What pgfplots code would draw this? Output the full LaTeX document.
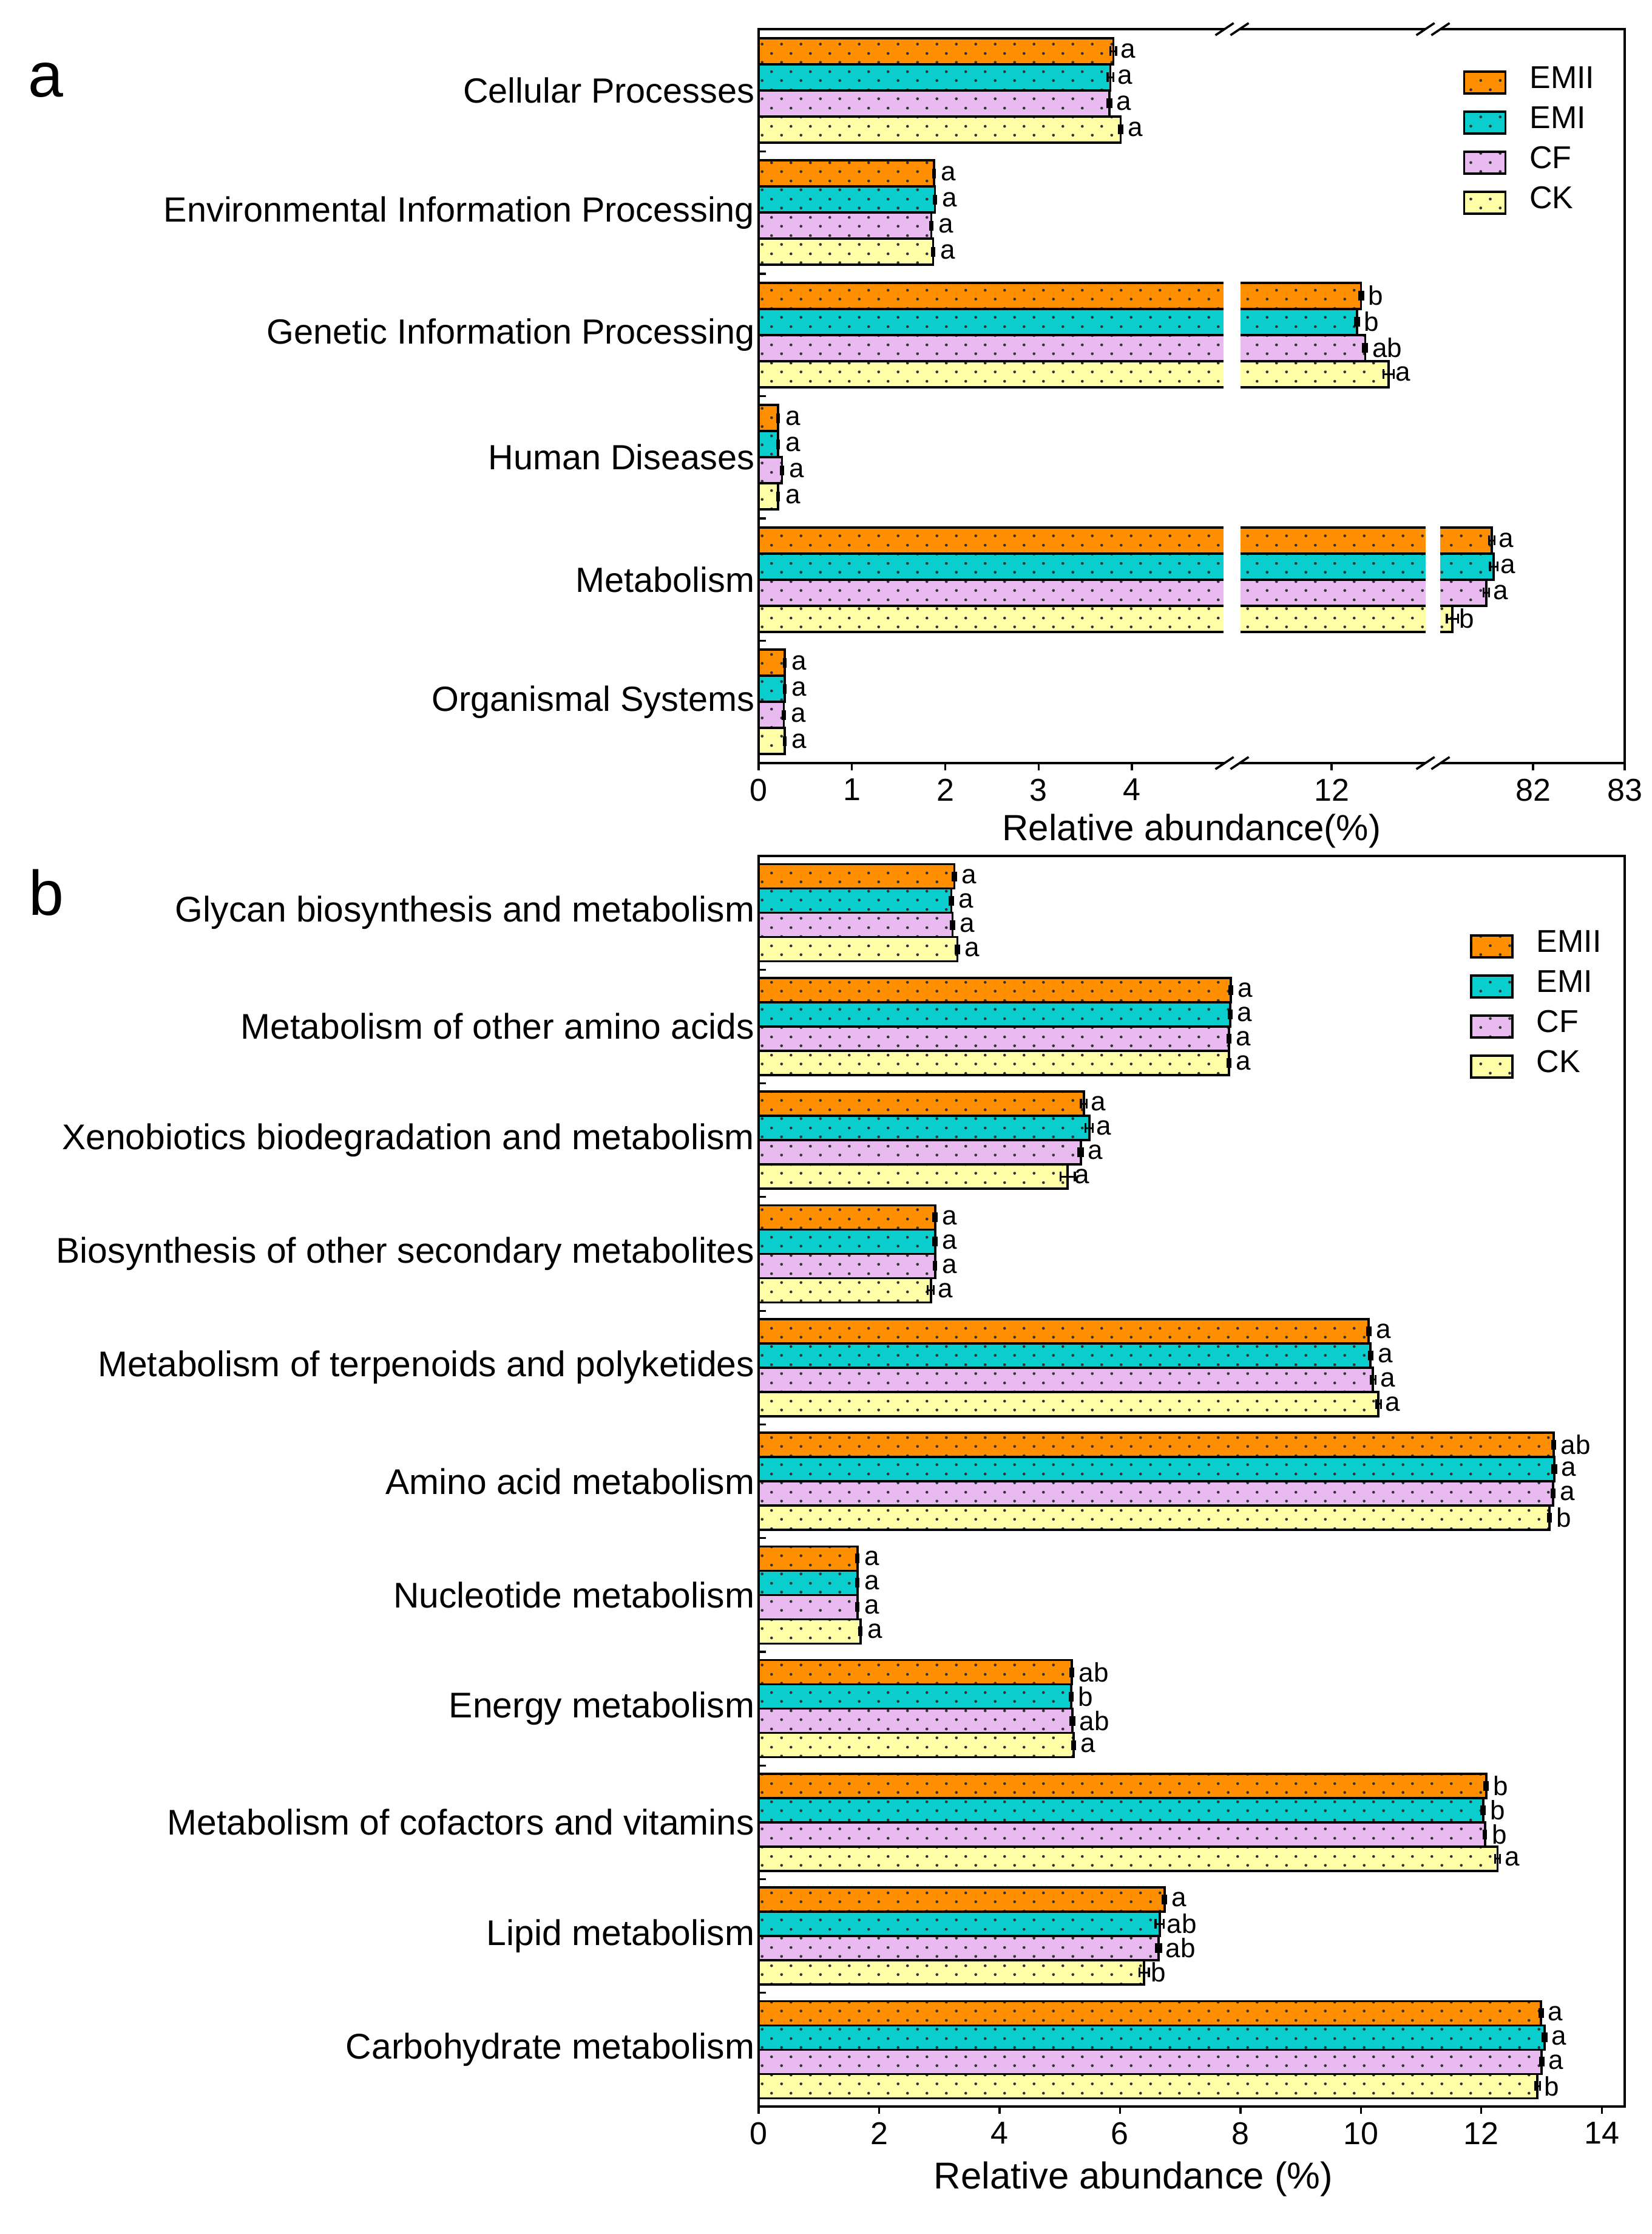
\documentclass[border=0pt]{standalone}
\usepackage{fontspec}
\setmainfont{Liberation Sans}
\usepackage{pgfplots}
\pgfplotsset{compat=1.18}
\usepackage{pgfplotstable}
\usetikzlibrary{patterns.meta,calc}

\definecolor{cEMII}{RGB}{255,142,0}
\definecolor{cEMI}{RGB}{10,206,206}
\definecolor{cCF}{RGB}{232,186,240}
\definecolor{cCK}{RGB}{255,255,168}

\tikzdeclarepattern{
  name=sdots,
  type=uncolored,
  bounding box={(0pt,0pt) and (8pt,7.5pt)},
  tile size={(8pt,7.5pt)},
  code={
    \fill (2pt,1.9pt) circle (0.6pt);
    \fill (6pt,5.65pt) circle (0.6pt);
  }
}

\pgfplotsset{
  sEMII/.style={fill=cEMII, draw=black, line width=0.9pt, postaction={pattern=sdots, pattern color=black!80}},
  sEMI/.style={fill=cEMI, draw=black, line width=0.9pt, postaction={pattern=sdots, pattern color=black!80}},
  sCF/.style={fill=cCF, draw=black, line width=0.9pt, postaction={pattern=sdots, pattern color=black!80}},
  sCK/.style={fill=cCK, draw=black, line width=0.9pt, postaction={pattern=sdots, pattern color=black!80}},
  common/.style={
    xbar, scale only axis, width=356.75pt,
    axis line style={line width=1.1pt},
    tick align=outside, xtick pos=left, ytick pos=left,
    major x tick style={line width=0.8pt, black},
    major tick length=3pt,
    major y tick style={draw=none},
    minor y tick style={line width=0.8pt, black, xshift=3pt},
    minor tick length=3pt,
    /pgf/number format/assume math mode=true,
    xticklabel style={font=\fontsize{13}{13}\selectfont},
    yticklabel style={inner sep=0pt, xshift=1.5pt},
    point meta=explicit symbolic,
    nodes near coords,
    every node near coord/.append style={font=\fontsize{11}{11}\selectfont, anchor=west, inner sep=0pt, xshift=2.5pt, black},
    error bars/x dir=both, error bars/x explicit,
    error bars/error bar style={line width=0.8pt, black},
    error bars/error mark options={rotate=90, mark size=2pt, line width=0.8pt, black},
    legend image code/.code={\draw[#1] (0pt,-4.5pt) rectangle (17pt,4.5pt);},
    legend cell align=left,
    legend style={draw=none, fill=none, inner sep=0pt, font=\fontsize{13}{13}\selectfont,
      nodes={inner sep=0pt, text height=10.5pt, text depth=6pt},
      column sep=9.5pt},
  },
}

% ---------------- panel a data (y: 5 = Cellular Processes ... 0 = Organismal Systems)
\pgfplotstableread{
y x e l
5 3.80 0.03 a
4 1.88 0.01 a
3 12.29 0.02 b
2 0.21 0.01 a
1 81.55 0.03 a
0 0.28 0.01 a
}\AEMII
\pgfplotstableread{
y x e l
5 3.77 0.03 a
4 1.89 0.01 a
3 12.25 0.02 b
2 0.21 0.01 a
1 81.57 0.04 a
0 0.28 0.01 a
}\AEMI
\pgfplotstableread{
y x e l
5 3.76 0.02 a
4 1.85 0.01 a
3 12.33 0.02 ab
2 0.25 0.01 a
1 81.49 0.03 a
0 0.27 0.01 a
}\ACF
\pgfplotstableread{
y x e l
5 3.88 0.02 a
4 1.87 0.01 a
3 12.56 0.05 a
2 0.21 0.01 a
1 81.12 0.06 b
0 0.28 0.01 a
}\ACK

% ---------------- panel b data (y: 10 = Glycan ... 0 = Carbohydrate)
\pgfplotstableread{
y x e l
10 3.25 0.03 a
9 7.84 0.02 a
8 5.40 0.05 a
7 2.93 0.03 a
6 10.13 0.03 a
5 13.20 0.02 ab
4 1.64 0.02 a
3 5.20 0.02 ab
2 12.08 0.03 b
1 6.74 0.03 a
0 12.99 0.03 a
}\BEMII
\pgfplotstableread{
y x e l
10 3.20 0.03 a
9 7.83 0.02 a
8 5.49 0.06 a
7 2.93 0.03 a
6 10.16 0.03 a
5 13.21 0.03 a
4 1.64 0.02 a
3 5.19 0.02 b
2 12.03 0.03 b
1 6.66 0.07 ab
0 13.05 0.03 a
}\BEMI
\pgfplotstableread{
y x e l
10 3.22 0.03 a
9 7.81 0.02 a
8 5.35 0.04 a
7 2.93 0.02 a
6 10.20 0.04 a
5 13.19 0.02 a
4 1.64 0.02 a
3 5.21 0.03 ab
2 12.06 0.02 b
1 6.64 0.04 ab
0 13.00 0.03 a
}\BCF
\pgfplotstableread{
y x e l
10 3.30 0.03 a
9 7.81 0.02 a
8 5.13 0.12 a
7 2.86 0.05 a
6 10.29 0.04 a
5 13.13 0.02 b
4 1.69 0.02 a
3 5.23 0.02 a
2 12.27 0.04 a
1 6.40 0.08 b
0 12.93 0.04 b
}\BCK

% error bars are not passed through the x coord trafo: scale them by the local slope
\pgfplotsset{table/aerr/.style={x error expr={\thisrow{e}*((\thisrow{x}<8) ? 38.44 : ((\thisrow{x}<40) ? 41.9 : 37.75))}}}

\begin{document}
\begin{tikzpicture}
\path[use as bounding box] (0pt,0pt) rectangle (680.25pt,-920pt);

% ================= panel a
\begin{axis}[common, name=A,
  at={(312.5pt,-314.25pt)}, anchor=south west,
  height=302.25pt,
  yticklabel style={font=\fontsize{14.4}{14.4}\selectfont},
  xlabel style={font=\fontsize{15}{15}\selectfont, yshift=1.5pt},
  x coord trafo/.code={\pgfmathparse{(#1<8) ? (38.44*#1) : ((#1<40) ? (236+41.9*(#1-12)) : (319+37.75*(#1-82)))}},
  xmin=0, xmax=83,
  xtick={0,1,2,3,4,12,82,83},
  xticklabels={0,1,2,3,4,12,82,83},
  ymin=-0.5, ymax=5.5,
  ytick={0,1,2,3,4,5},
  yticklabels={Organismal Systems,Metabolism,Human Diseases,Genetic Information Processing,Environmental Information Processing,Cellular Processes},
  minor ytick={0.5,1.5,2.5,3.5,4.5},
  xlabel={Relative abundance(\%)},
  legend style={at={(axis description cs:0.8129,0.955)}, anchor=north west},
]
\addplot[sEMII, bar width=10.75pt, bar shift=16.125pt] table[x=x,y=y,aerr,meta=l]{\AEMII};
\addplot[sEMI, bar width=10.75pt, bar shift=5.375pt] table[x=x,y=y,aerr,meta=l]{\AEMI};
\addplot[sCF, bar width=10.75pt, bar shift=-5.375pt] table[x=x,y=y,aerr,meta=l]{\ACF};
\addplot[sCK, bar width=10.75pt, bar shift=-16.125pt] table[x=x,y=y,aerr,meta=l]{\ACK};
\legend{EMII,EMI,CF,CK}
\end{axis}

% axis breaks of panel a
\foreach \f/\w in {0.5466/3.6pt, 0.7786/2.9pt}{
  \fill[white] ($(A.south west)!\f!(A.south east)$) ++(-\w,1pt) rectangle ++(2*\w,300.25pt);
  \foreach \s in {south, north}{
    \coordinate (c) at ($(A.\s\space west)!\f!(A.\s\space east)$);
    \fill[white] ($(c)+(-3.1pt,-1.2pt)$) rectangle ($(c)+(3.1pt,1.2pt)$);
    \draw[line width=0.9pt] ($(c)+(-6.85pt,-2.5pt)$) -- ($(c)+(0.65pt,2.5pt)$);
    \draw[line width=0.9pt] ($(c)+(-0.65pt,-2.5pt)$) -- ($(c)+(6.85pt,2.5pt)$);
  }
}

% ================= panel b
\begin{axis}[common, name=B,
  at={(312.5pt,-867.5pt)}, anchor=south west,
  height=515pt,
  yticklabel style={font=\fontsize{14.7}{14.7}\selectfont},
  xlabel style={font=\fontsize{15.4}{15.4}\selectfont, xshift=-24pt},
  xmin=0, xmax=14.38,
  xtick={0,2,4,6,8,10,12,14},
  ymin=-0.5, ymax=10.5,
  ytick={0,1,2,3,4,5,6,7,8,9,10},
  yticklabels={Carbohydrate metabolism,Lipid metabolism,Metabolism of cofactors and vitamins,Energy metabolism,Nucleotide metabolism,Amino acid metabolism,Metabolism of terpenoids and polyketides,Biosynthesis of other secondary metabolites,Xenobiotics biodegradation and metabolism,Metabolism of other amino acids,Glycan biosynthesis and metabolism},
  minor ytick={0.5,1.5,...,9.5},
  xlabel={Relative abundance (\%)},
  legend style={at={(axis description cs:0.821,0.944)}, anchor=north west},
]
\addplot[sEMII, bar width=10pt, bar shift=15pt] table[x=x,y=y,x error=e,meta=l]{\BEMII};
\addplot[sEMI, bar width=10pt, bar shift=5pt] table[x=x,y=y,x error=e,meta=l]{\BEMI};
\addplot[sCF, bar width=10pt, bar shift=-5pt] table[x=x,y=y,x error=e,meta=l]{\BCF};
\addplot[sCK, bar width=10pt, bar shift=-15pt] table[x=x,y=y,x error=e,meta=l]{\BCK};
\legend{EMII,EMI,CF,CK}
\end{axis}

\node[anchor=base west, inner sep=0pt, font=\fontsize{26}{26}\selectfont] at (11.5pt,-40pt) {a};
\node[anchor=base west, inner sep=0pt, font=\fontsize{26}{26}\selectfont] at (11.75pt,-376.75pt) {b};
\end{tikzpicture}
\end{document}
